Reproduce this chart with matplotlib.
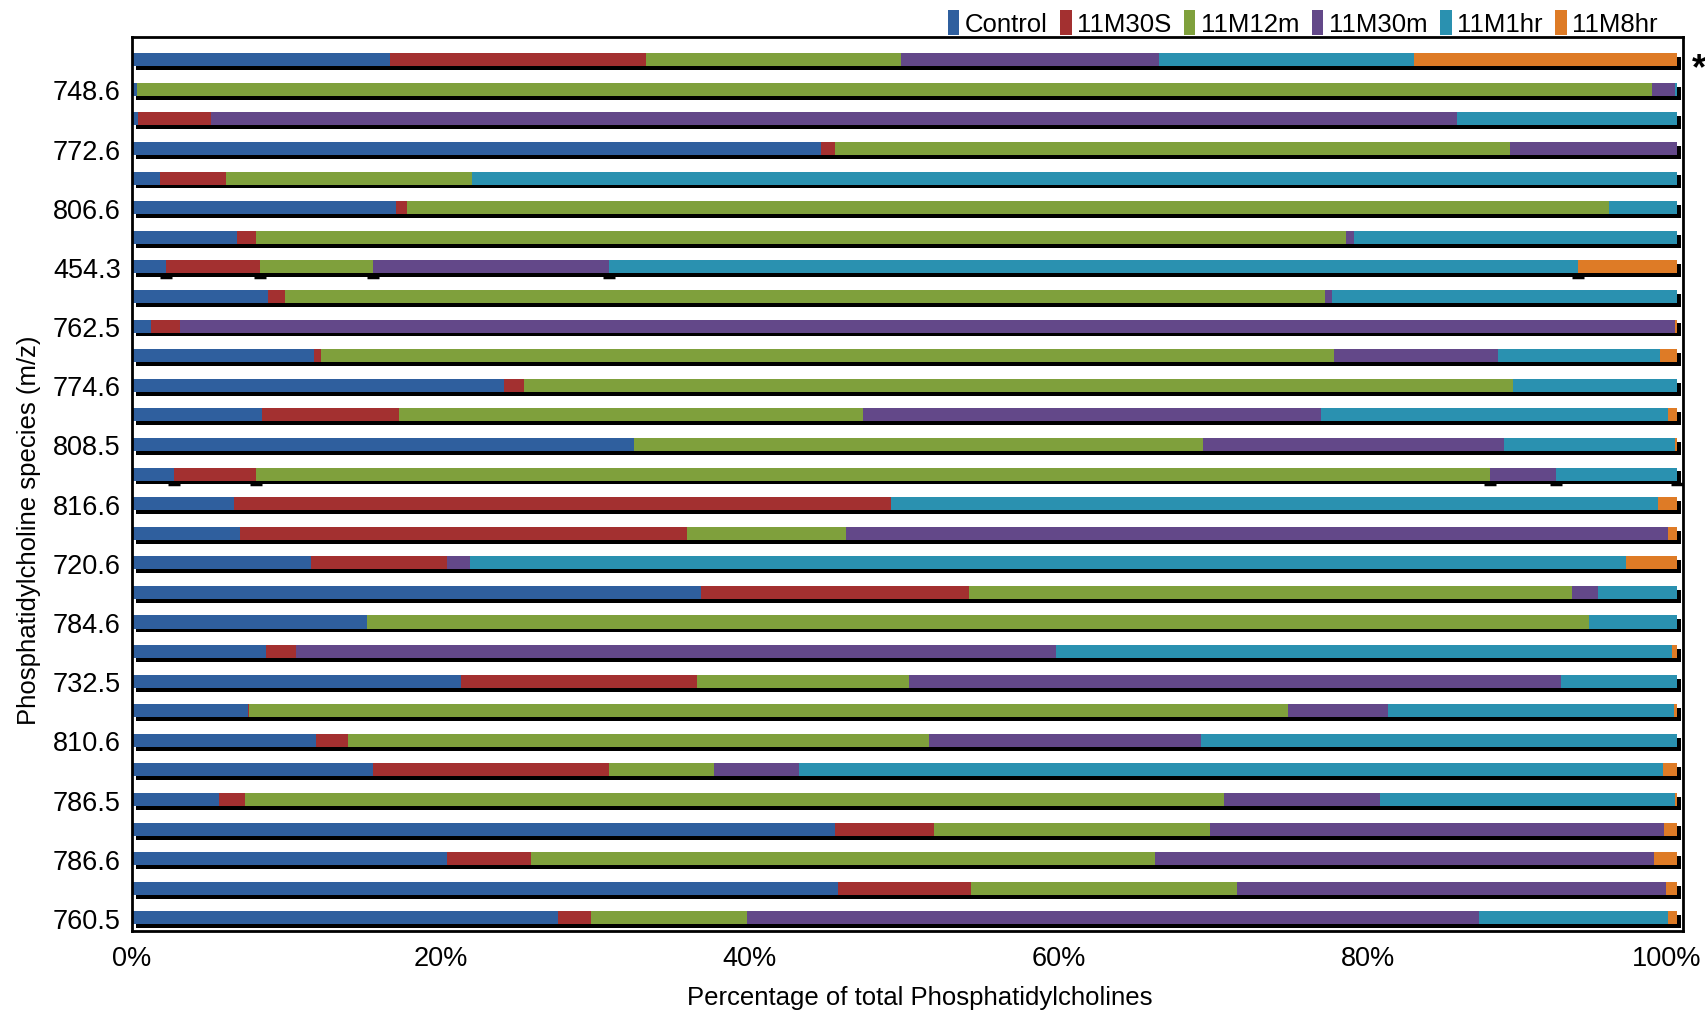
import numpy as np
import matplotlib
matplotlib.use("Agg")
from matplotlib import pyplot as plt
from matplotlib.patches import Patch
from matplotlib.transforms import ScaledTranslation

plt.rcParams['font.family'] = ['Liberation Sans', 'DejaVu Sans']

# one row per bar, top to bottom; labels only on every other row
row_labels = ['', '748.6', '', '772.6', '', '806.6', '', '454.3', '', '762.5',
              '', '774.6', '', '808.5', '', '816.6', '', '720.6', '', '784.6',
              '', '732.5', '', '810.6', '', '786.5', '', '786.6', '', '760.5']

series = ['Control', '11M30S', '11M12m', '11M30m', '11M1hr', '11M8hr']
colors = ['#2f5f9e', '#a33030', '#7fa03c', '#634889', '#2a91b0', '#de7b26']

control = [16.7, 0.3, 0.4, 44.6, 1.8, 17.1, 6.8, 2.2, 8.8, 1.2,
           11.8, 24.1, 8.4, 32.5, 2.7, 6.6, 7.0, 11.6, 36.8, 15.2,
           8.7, 21.3, 7.5, 11.9, 15.6, 5.6, 45.5, 20.4, 45.7, 27.6]
m30s = [16.6, 0.0, 4.7, 0.9, 4.3, 0.7, 1.2, 6.1, 1.1, 1.9,
        0.4, 1.3, 8.9, 0.0, 5.3, 42.5, 28.9, 8.8, 17.4, 0.0,
        1.9, 15.3, 0.1, 2.1, 15.3, 1.7, 6.4, 5.4, 8.6, 2.1]
m12m = [16.5, 98.1, 0.0, 43.7, 15.9, 77.8, 70.6, 7.3, 67.3, 0.0,
        65.6, 64.0, 30.0, 36.8, 79.9, 0.0, 10.3, 0.0, 39.0, 79.1,
        0.0, 13.7, 67.2, 37.6, 6.8, 63.4, 17.9, 40.4, 17.2, 10.1]
m30m = [16.7, 1.5, 80.7, 10.8, 0.0, 0.0, 0.5, 15.3, 0.5, 96.8,
        10.6, 0.0, 29.7, 19.5, 4.3, 0.0, 53.2, 1.5, 1.7, 0.0,
        49.2, 42.2, 6.5, 17.6, 5.5, 10.1, 29.4, 32.3, 27.8, 47.4]
m1hr = [16.5, 0.1, 14.2, 0.0, 78.0, 4.4, 20.9, 62.7, 22.3, 0.0,
        10.5, 10.6, 22.4, 11.1, 7.8, 49.7, 0.0, 74.8, 5.1, 5.7,
        39.9, 7.5, 18.5, 30.8, 55.9, 19.1, 0.0, 0.0, 0.0, 12.2]
m8hr = [17.0, 0.0, 0.0, 0.0, 0.0, 0.0, 0.0, 6.4, 0.0, 0.1,
        1.1, 0.0, 0.6, 0.1, 0.0, 1.2, 0.6, 3.3, 0.0, 0.0,
        0.3, 0.0, 0.2, 0.0, 0.9, 0.1, 0.8, 1.5, 0.7, 0.6]

# rows that carry small error marks at segment ends
err_rows = [7, 14]

data = np.array([control, m30s, m12m, m30m, m1hr, m8hr])
data = data / data.sum(axis=0) * 100
y = np.arange(len(row_labels))

fig = plt.figure(figsize=(17.06, 10.12), dpi=100)
ax = fig.add_axes([0.0774, 0.0791, 0.9091, 0.8834])

bar_h = 0.44
# dark drop shadow behind each bar
ax.barh(y + 0.13, data.sum(axis=0), height=bar_h, left=0.25, color='black', zorder=1)

left = np.zeros(len(y))
for vals, name, c in zip(data, series, colors):
    ax.barh(y, vals, height=bar_h, left=left, color=c, label=name, zorder=2)
    left = left + vals

cum = np.cumsum(data, axis=0)
for r in err_rows:
    ends = cum[:-1, r]
    ends = ends[np.diff(np.append(0, cum[:, r]))[:-1] > 0.05]
    ax.plot(ends, np.full(len(ends), r + 0.33), linestyle='none', marker='_',
            markersize=8, markeredgewidth=2.5, color='black', zorder=0)

ax.set_xlim(0, 100.4)
ax.set_ylim(29.44, -0.77)
ax.set_yticks(y)
ax.set_yticklabels(row_labels, fontsize=19.5)
ax.set_xticks([0, 20, 40, 60, 80, 100])
ax.set_xticklabels(['0%', '20%', '40%', '60%', '80%', '100%'], fontsize=19.5)
ax.tick_params(axis='both', length=0)
ax.tick_params(axis='x', pad=10)
ax.tick_params(axis='y', pad=8)
last = ax.get_xticklabels()[-1]
last.set_transform(last.get_transform() + ScaledTranslation(-7 / 72, 0, fig.dpi_scale_trans))
for s in ax.spines.values():
    s.set_linewidth(2)
    s.set_color('black')

ax.set_xlabel('Percentage of total Phosphatidylcholines', fontsize=18.5)
ax.xaxis.set_label_coords(0.508, -0.061)
ax.set_ylabel('Phosphatidylcholine species (m/z)', fontsize=18.5)
ax.yaxis.set_label_coords(-0.059, 0.449)

ax.text(1.006, 0.3, '*', transform=ax.get_yaxis_transform(), fontsize=26,
        fontweight='bold', va='center', ha='left')

handles = [Patch(facecolor=c, edgecolor='none') for c in colors]
fig.legend(handles, series, loc='upper right', bbox_to_anchor=(0.985, 1.012),
           ncol=6, frameon=False, fontsize=18.5, handlelength=0.45,
           handleheight=1.1, handletextpad=0.2, columnspacing=0.5)

plt.savefig('out.png', dpi=100)
